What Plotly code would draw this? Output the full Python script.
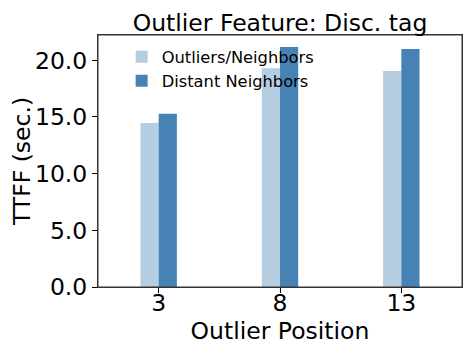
import plotly.graph_objects as go

# Outlier position on the x axis and TTFF values (seconds) for each group
positions = [3, 8, 13]
outliers_neighbors = [14.46, 19.29, 19.05]
distant_neighbors = [15.28, 21.17, 21.0]
y_ticks = [0, 5, 10, 15, 20]

font_family = "DejaVu Sans"
bar_width = 0.75
text_size = 23.5

fig = go.Figure()

# light bars sit just left of the tick, dark bars just right of it
fig.add_trace(go.Bar(x=positions, y=outliers_neighbors,
                     name="Outliers/Neighbors",
                     width=bar_width, offset=-bar_width,
                     marker=dict(color="#b4cde1", line=dict(width=0))))
fig.add_trace(go.Bar(x=positions, y=distant_neighbors,
                     name="Distant Neighbors",
                     width=bar_width, offset=0,
                     marker=dict(color="#4682b4", line=dict(width=0))))

fig.update_xaxes(range=[0.5, 15.5], automargin=False,
                 tickvals=positions,
                 ticks="outside", ticklen=5, tickcolor="black",
                 ticklabelstandoff=-10,
                 showline=True, linecolor="#333333", linewidth=1, mirror=True,
                 showgrid=False, zeroline=False,
                 tickfont=dict(size=text_size, color="black"),
                 title=dict(text="Outlier Position", font=dict(size=text_size, color="black"), standoff=0))
fig.update_yaxes(range=[0, 22.23], automargin=False,
                 tickvals=y_ticks, tickformat=".1f",
                 ticks="outside", ticklen=5, tickcolor="black",
                 showline=True, linecolor="#333333", linewidth=1, mirror=True,
                 showgrid=False, zeroline=False,
                 tickfont=dict(size=text_size, color="black"),
                 title=dict(text="TTFF (sec.)", font=dict(size=text_size, color="black"), standoff=2))

# box around the plot area, like the reference's spines
fig.add_shape(type="rect", xref="paper", yref="paper", x0=0, y0=0, x1=1, y1=1,
              line=dict(color="#333333", width=1))

# the page body keeps its default 8px margin, so the figure is 8px smaller
fig.update_layout(width=465, height=347,
                  barmode="overlay",
                  font=dict(family=font_family, color="black"),
                  plot_bgcolor="white", paper_bgcolor="white",
                  margin=dict(l=90, r=11, t=27, b=68, autoexpand=False),
                  title=dict(text="Outlier Feature: Disc. tag",
                             font=dict(size=text_size, color="black"),
                             x=0.5, xref="paper", xanchor="center",
                             y=0.958, yref="container", yanchor="middle",
                             automargin=False),
                  legend=dict(x=0.065, y=0.982, xanchor="left", yanchor="top",
                              bgcolor="rgba(0,0,0,0)",
                              font=dict(size=16.3, color="black"),
                              itemwidth=30, tracegroupgap=0))

fig.write_html("out.html")
